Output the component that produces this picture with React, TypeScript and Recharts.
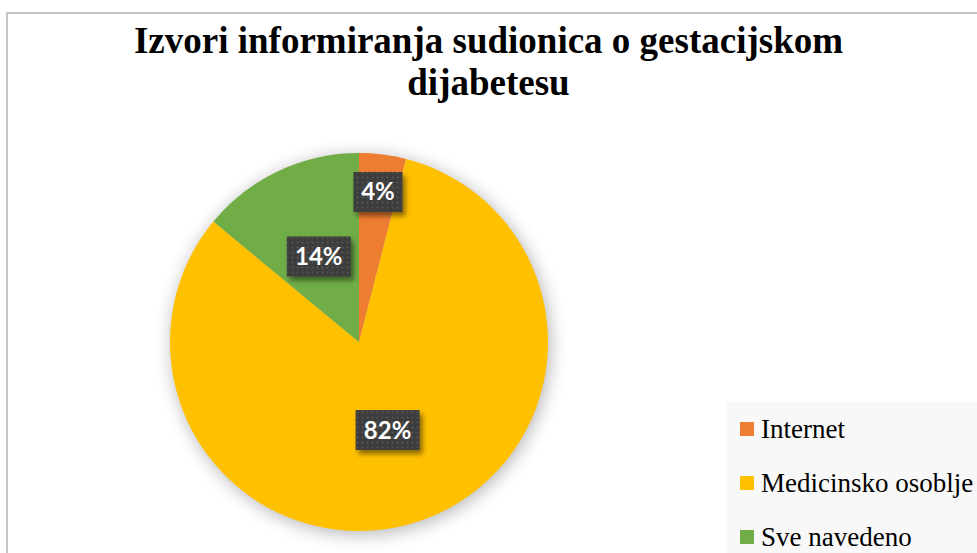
import React from 'react';
import { PieChart, Pie, Cell, Legend } from 'recharts';

const categories = ['Internet', 'Medicinsko osoblje', 'Sve navedeno'];
const shares = [4, 82, 14];
const sliceColors = ['#ED7D31', '#FFC000', '#70AD47'];
// how far out (share of the radius) each data label sits
const labelRadius = [0.8, 0.49, 0.5];

const data = categories.map((name, i) => ({ name, value: shares[i] }));

const RAD = Math.PI / 180;

const renderLabel = (props: any) => {
  const { cx, cy, midAngle, outerRadius, index, value } = props;
  const r = outerRadius * labelRadius[index];
  const x = cx + r * Math.cos(-midAngle * RAD);
  const y = cy + r * Math.sin(-midAngle * RAD);
  const text = `${value}%`;
  const w = 19 + 15 * text.length;
  const h = 40;
  return (
    <g>
      <rect x={x - w / 2} y={y - h / 2} width={w} height={h} fill="#3e3e3e" filter="url(#boxShadow)" />
      <rect x={x - w / 2} y={y - h / 2} width={w} height={h} fill="url(#dots)" />
      <text
        x={x}
        y={y}
        dy={8.5}
        textAnchor="middle"
        fill="#fff"
        fontFamily="Lato, 'Open Sans', sans-serif"
        fontWeight={700}
        fontSize={24}
      >
        {text}
      </text>
    </g>
  );
};

const renderLegend = () => (
  <div
    style={{
      background: '#F8F8F8',
      width: 260,
      height: 160,
      fontFamily: "'Liberation Serif', 'Times New Roman', serif",
      fontSize: 27,
      color: '#000',
    }}
  >
    {categories.map((c, i) => (
      <div key={c} style={{ display: 'flex', alignItems: 'center', height: 54, paddingLeft: 13, whiteSpace: 'nowrap' }}>
        <span style={{ display: 'inline-block', width: 14, height: 14, background: sliceColors[i], marginRight: 7 }} />
        <span>{c}</span>
      </div>
    ))}
  </div>
);

export default function App() {
  return (
    <div style={{ position: 'absolute', left: 0, top: 0, width: 977, height: 553, overflow: 'hidden', background: '#fff' }}>
      <svg width={0} height={0} style={{ position: 'absolute' }}>
        <defs>
          <filter id="pieGlow" filterUnits="userSpaceOnUse" x={0} y={0} width={977} height={553}>
            <feGaussianBlur in="SourceAlpha" stdDeviation={9} />
            <feOffset dx={2} dy={3} />
            <feComponentTransfer>
              <feFuncA type="linear" slope={0.3} />
            </feComponentTransfer>
          </filter>
          <filter id="boxShadow" x="-30%" y="-30%" width="160%" height="160%">
            <feDropShadow dx={3} dy={4} stdDeviation={2.5} floodColor="#000" floodOpacity={0.45} />
          </filter>
          <pattern id="dots" width={5} height={5} patternUnits="userSpaceOnUse">
            <circle cx={2.5} cy={2.5} r={1} fill="#575757" />
          </pattern>
        </defs>
      </svg>
      <div
        style={{
          position: 'absolute',
          left: 6,
          top: 12,
          width: 1000,
          height: 600,
          border: '2px solid #c6c6c6',
        }}
      />
      <div style={{ position: 'absolute', left: 0, top: 0 }}>
        <PieChart width={977} height={553} margin={{ top: 0, right: 0, bottom: 0, left: 0 }}>
          <Pie
            data={data}
            dataKey="value"
            nameKey="name"
            cx={359}
            cy={342}
            outerRadius={189}
            startAngle={90}
            endAngle={-270}
            stroke="none"
            legendType="none"
            isAnimationActive={false}
          >
            {data.map((d) => (
              <Cell key={d.name} fill="#000" filter="url(#pieGlow)" />
            ))}
          </Pie>
          <Pie
            data={data}
            dataKey="value"
            nameKey="name"
            cx={359}
            cy={342}
            outerRadius={189}
            startAngle={90}
            endAngle={-270}
            stroke="none"
            labelLine={false}
            label={renderLabel}
            isAnimationActive={false}
          >
            {data.map((d, i) => (
              <Cell key={d.name} fill={sliceColors[i]} />
            ))}
          </Pie>
          <Legend
            content={renderLegend}
            wrapperStyle={{ left: 727, top: 402, width: 260, height: 160, position: 'absolute' }}
          />
        </PieChart>
      </div>
      <div
        style={{
          position: 'absolute',
          left: 0,
          top: 20,
          width: 977,
          textAlign: 'center',
          fontFamily: "'Liberation Serif', 'Times New Roman', serif",
          fontWeight: 700,
          fontSize: 37,
          lineHeight: '42px',
          color: '#000',
        }}
      >
        Izvori informiranja sudionica o gestacijskom
        <br />
        dijabetesu
      </div>
    </div>
  );
}
